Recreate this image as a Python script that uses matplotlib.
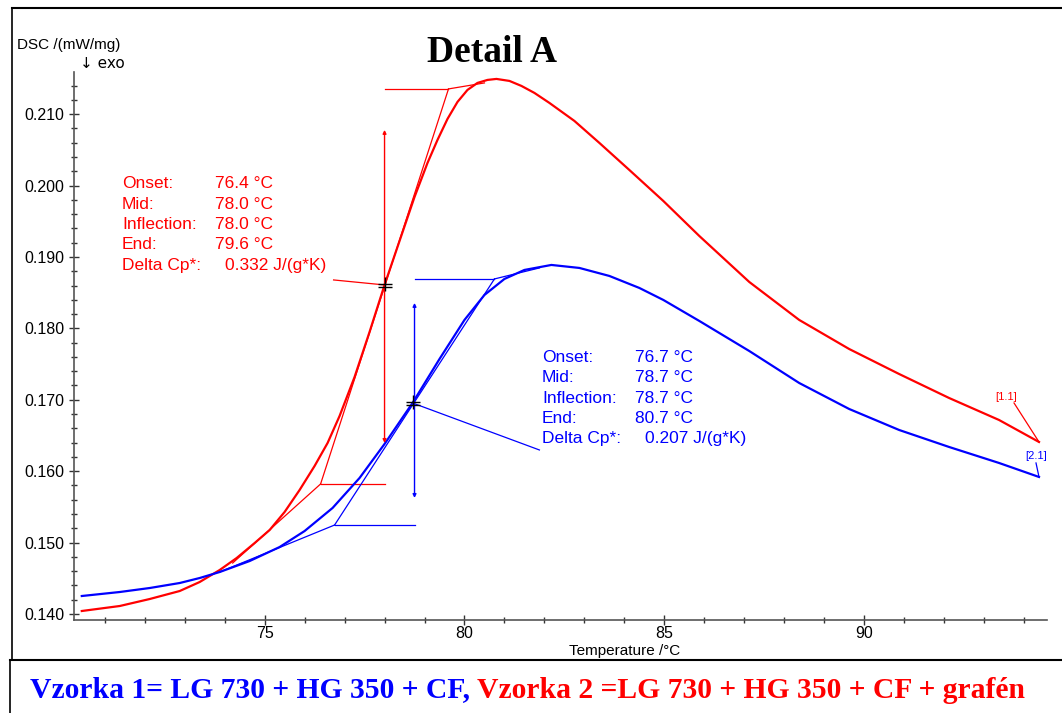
import numpy as np
import matplotlib
matplotlib.use("Agg")
import matplotlib.pyplot as plt
from matplotlib.lines import Line2D
from matplotlib.ticker import MultipleLocator

# sample 2 (red, with graphene)
t_red = [70.425, 71.375, 72.125, 72.875, 73.375, 73.875, 74.3, 74.75, 75.125, 75.5,
         75.875, 76.25, 76.575, 76.875, 77.25, 77.625, 78.0, 78.375, 78.75, 79.075,
         79.325, 79.575, 79.825, 80.075, 80.325, 80.575, 80.8, 81.125, 81.425, 81.75,
         82.125, 82.75, 83.375, 84.125, 84.975, 85.875, 87.125, 88.375, 89.625, 90.875,
         92.125, 93.375, 94.375]
dsc_red = [0.14042, 0.14112, 0.14210, 0.14322, 0.14448, 0.14616, 0.14784, 0.14994,
           0.15176, 0.15429, 0.15737, 0.16073, 0.16395, 0.16773, 0.17319, 0.17950,
           0.18608, 0.19224, 0.19840, 0.20317, 0.20639, 0.20933, 0.21171, 0.21339,
           0.21437, 0.21479, 0.21493, 0.21465, 0.21395, 0.21297, 0.21157, 0.20905,
           0.20597, 0.20218, 0.19784, 0.19294, 0.18650, 0.18118, 0.17711, 0.17361,
           0.17025, 0.16717, 0.16409]

# sample 1 (blue)
t_blue = [70.425, 71.375, 72.125, 72.875, 73.375, 73.875, 74.625, 75.375, 76.0, 76.7,
          77.375, 78.0, 78.7, 79.375, 80.0, 80.5, 81.0, 81.5, 82.175, 82.875, 83.625,
          84.375, 84.975, 85.875, 87.125, 88.375, 89.625, 90.875, 92.125, 93.375, 94.375]
dsc_blue = [0.14252, 0.14308, 0.14364, 0.14434, 0.14504, 0.14588, 0.14742, 0.14938,
            0.15162, 0.15485, 0.15905, 0.16381, 0.16955, 0.17571, 0.18118, 0.18468,
            0.18692, 0.18818, 0.18888, 0.18846, 0.18734, 0.18566, 0.18398, 0.18104,
            0.17683, 0.17235, 0.16871, 0.16577, 0.16339, 0.16115, 0.15919]

# glass transition evaluation: onset, mid, end, base/peak points
red_eval = {"onset": 76.4, "mid": 78.0, "end": 79.6, "d_on": 0.15821, "d_mid": 0.18608,
            "d_end": 0.21353, "base": (74.2, 0.14714), "top": (80.5, 0.21437),
            "arrow": (0.20779, 0.16395)}
blue_eval = {"onset": 76.75, "mid": 78.7, "end": 80.75, "d_on": 0.15246, "d_mid": 0.16955,
             "d_end": 0.18692, "base": (73.875, 0.14588), "top": (81.875, 0.18846),
             "arrow": (0.18356, 0.15625)}

red_text = [("Onset:", "76.4 °C"), ("Mid:", "78.0 °C"), ("Inflection:", "78.0 °C"),
            ("End:", "79.6 °C"), ("Delta Cp*:", "0.332 J/(g*K)")]
blue_text = [("Onset:", "76.7 °C"), ("Mid:", "78.7 °C"), ("Inflection:", "78.7 °C"),
             ("End:", "80.7 °C"), ("Delta Cp*:", "0.207 J/(g*K)")]

W, H = 1062, 713
RED = "#ff0000"
BLUE = "#0000ff"
plt.rcParams["font.family"] = ["Liberation Sans", "DejaVu Sans"]

fig = plt.figure(figsize=(W / 100, H / 100), dpi=100)

def fx(px):
    return px / W

def fy(py):
    return 1 - py / H

ax = fig.add_axes([fx(74), fy(620), fx(1047) - fx(74), fy(72) - fy(620)])
ax.set_xlim(70.23, 94.575)
ax.set_ylim(0.13916, 0.2159)

ax.plot(t_red, dsc_red, color=RED, lw=1.6, zorder=3)
ax.plot(t_blue, dsc_blue, color=BLUE, lw=1.6, zorder=3)


def draw_eval(e, col, off):
    lw = 0.9
    ax.plot([e["base"][0], e["onset"]], [e["base"][1], e["d_on"]], color=col, lw=lw)
    ax.plot([e["onset"], e["mid"] + off], [e["d_on"], e["d_on"]], color=col, lw=lw)
    ax.plot([e["onset"], e["end"]], [e["d_on"], e["d_end"]], color=col, lw=lw)
    ax.plot([e["mid"] + off, e["end"]], [e["d_end"], e["d_end"]], color=col, lw=lw)
    ax.plot([e["end"], e["top"][0]], [e["d_end"], e["top"][1]], color=col, lw=lw)
    xa = e["mid"] + off
    ax.annotate("", xy=(xa, e["arrow"][0]), xytext=(xa, e["arrow"][1]),
                arrowprops=dict(arrowstyle="<|-|>", color=col, lw=1.0,
                                mutation_scale=5, shrinkA=0, shrinkB=0))
    ax.plot([e["mid"]], [e["d_mid"] + 0.0002], marker="+", ms=10, mew=1.0, color="black", zorder=5)
    ax.plot([e["mid"]], [e["d_mid"] - 0.0003], marker="_", ms=10, mew=1.0, color="black", zorder=5)


draw_eval(red_eval, RED, 0.0)
draw_eval(blue_eval, BLUE, 0.05)

# leaders from mid points to text blocks
ax.plot([78.0, 76.725], [0.18608, 0.18678], color=RED, lw=0.9)
ax.plot([78.7, 81.875], [0.16955, 0.16297], color=BLUE, lw=0.9)

# curve labels
ax.text(93.55, 0.17039, "[1.1]", color=RED, fontsize=8, ha="center", va="center")
ax.plot([93.75, 94.375], [0.16955, 0.16409], color=RED, lw=0.9)
ax.text(94.3, 0.16213, "[2.1]", color=BLUE, fontsize=8, ha="center", va="center")
ax.plot([94.3, 94.375], [0.16115, 0.15919], color=BLUE, lw=0.9)

# axes style
for s in ["top", "right"]:
    ax.spines[s].set_visible(False)
for s in ["left", "bottom"]:
    ax.spines[s].set_color("#555555")
    ax.spines[s].set_linewidth(1.2)
ax.xaxis.set_major_locator(MultipleLocator(5))
ax.xaxis.set_minor_locator(MultipleLocator(1))
ax.yaxis.set_major_locator(MultipleLocator(0.01))
ax.yaxis.set_minor_locator(MultipleLocator(0.002))
ax.yaxis.set_major_formatter(matplotlib.ticker.FormatStrFormatter("%.3f"))
ax.tick_params(which="major", direction="inout", length=7, width=1, labelsize=11.5, color="#333333")
ax.tick_params(which="minor", direction="inout", length=5, width=1, color="#333333")
ax.tick_params(axis="x", pad=1)
ax.set_xlabel("Temperature /°C", fontsize=11)
ax.xaxis.set_label_coords((625 - 74) / (1047 - 74), -(651 - 620) / (620 - 72), transform=ax.transAxes)
ax.xaxis.label.set_va("center")

# text blocks
for i, (a, b) in enumerate(red_text):
    y = fy(184 + i * 20.3)
    fig.text(fx(122), y, a, color=RED, fontsize=12.5, va="center")
    fig.text(fx(215 if i < 4 else 225), y, b, color=RED, fontsize=12.5, va="center")
for i, (a, b) in enumerate(blue_text):
    y = fy(357 + i * 20.5)
    fig.text(fx(542), y, a, color=BLUE, fontsize=12.5, va="center")
    fig.text(fx(635 if i < 4 else 645), y, b, color=BLUE, fontsize=12.5, va="center")

fig.text(fx(492), fy(53), "Detail A", fontsize=27, fontweight="bold",
         family="Liberation Serif", ha="center", va="center")
fig.text(fx(17), fy(45), "DSC /(mW/mg)", fontsize=11, va="center")
fig.text(fx(80), fy(64), "↓ exo", fontsize=11, va="center", family=["DejaVu Sans"])

# frame lines
fig.add_artist(Line2D([fx(12), 1], [fy(8), fy(8)], color="black", lw=1.5))
fig.add_artist(Line2D([fx(12), fx(12)], [fy(8), fy(660)], color="black", lw=1.2))
fig.add_artist(Line2D([fx(10), 1], [fy(660), fy(660)], color="black", lw=1.5))
fig.add_artist(Line2D([fx(10), fx(10)], [fy(660), 0], color="black", lw=1.2))

# caption in two colours
cap1 = fig.text(fx(30), fy(690), "Vzorka 1= LG 730 + HG 350 + CF, ", color=BLUE,
                fontsize=21.3, fontweight="bold", family="Liberation Serif", va="center")
fig.canvas.draw()
bb = cap1.get_window_extent()
fig.text(bb.x1 / W, fy(690), "Vzorka 2 =LG 730 + HG 350 + CF + grafén", color=RED,
         fontsize=21.3, fontweight="bold", family="Liberation Serif", va="center")

fig.savefig("out.png", dpi=100)
